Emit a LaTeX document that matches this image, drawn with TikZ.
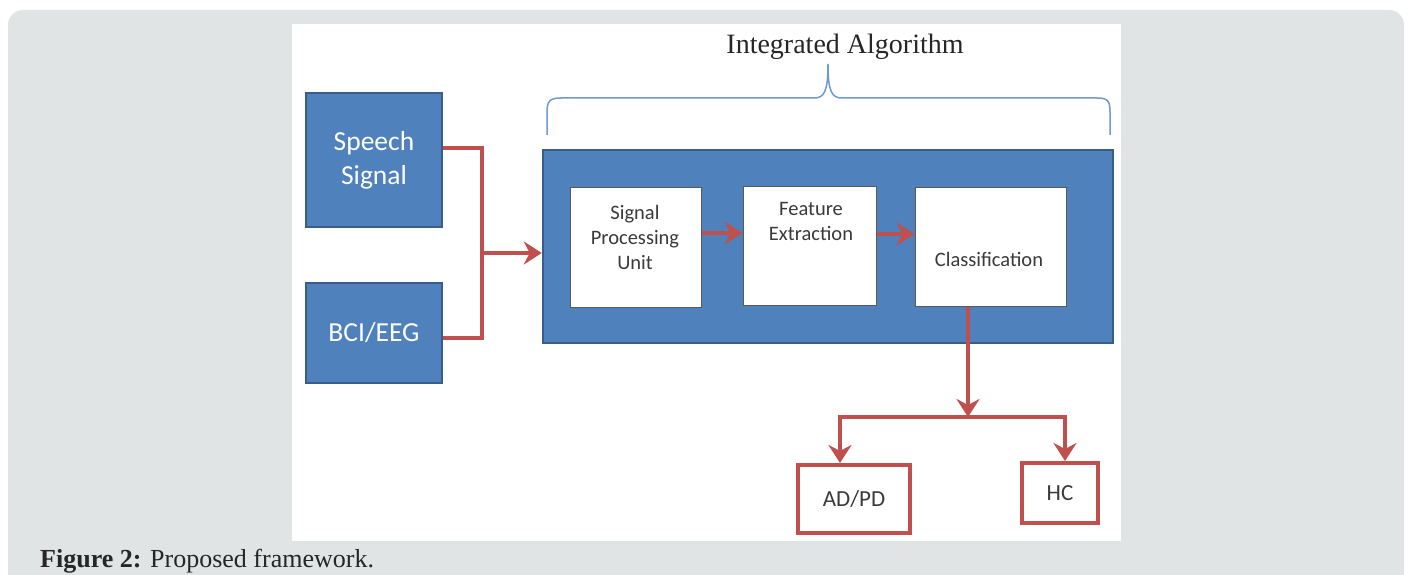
\documentclass[tikz,border=0pt]{standalone}
\usepackage{fontspec}
\setmainfont{Liberation Serif}
\newfontfamily\boxfont{Carlito}
\usetikzlibrary{arrows.meta}
\definecolor{panelgray}{HTML}{E1E4E5}
\definecolor{accblue}{HTML}{4F81BD}
\definecolor{accblueedge}{HTML}{385D8A}
\definecolor{bracecol}{HTML}{6E9AD0}
\definecolor{accred}{HTML}{C0504D}
\definecolor{labelgray}{HTML}{3A3A3A}
\definecolor{captext}{HTML}{262626}
\begin{document}
\begin{tikzpicture}[x=1pt,y=-1pt,
  bluebox/.style={draw=accblueedge,line width=2.5pt,fill=accblue,inner sep=0pt},
  inbox/.style={draw=gray!70!black,line width=1pt,fill=white,inner sep=0pt},
  outbox/.style={draw=accred,line width=4pt,fill=white,inner sep=0pt,
    font=\boxfont\fontsize{23}{26}\selectfont,text=labelgray},
  inlabel/.style={font=\boxfont\fontsize{20.5}{25}\selectfont,text=labelgray,align=center,inner sep=0pt},
  redline/.style={draw=accred,line width=4pt},
  redarrow/.style={redline,-{Stealth[length=18pt,width=23pt,inset=6pt]}},
  brace/.style={draw=bracecol,line width=1.5pt}]
\useasboundingbox (0,0) rectangle (1408,575);
\fill[white] (0,0) rectangle (1408,575);
% grey panel with rounded top corners
\fill[panelgray] (8,575) [rounded corners=15pt] -- (8,10) -- (1404,10) [sharp corners] -- (1404,575) -- cycle;
% figure area
\fill[white] (292,24) rectangle (1121,541);

% inputs
\node[bluebox,minimum width=136pt,minimum height=134pt,text=white,align=center,
  font=\boxfont\fontsize{27.5}{34}\selectfont] (speech) at (374,160) {Speech\\Signal};
\node[bluebox,minimum width=136pt,minimum height=100pt,text=white,
  font=\boxfont\fontsize{27.5}{34}\selectfont] (bci) at (374,333) {BCI/EEG};

% integrated algorithm block
\node[bluebox,minimum width=570pt,minimum height=193pt] (algo) at (828,246.5) {};
\node[inbox,minimum width=131pt,minimum height=120pt] (sp) at (635.5,247) {};
\node[inbox,minimum width=133pt,minimum height=119pt] (fe) at (809.5,245.5) {};
\node[inbox,minimum width=151pt,minimum height=119pt] (cl) at (990.5,246.5) {};
\node[inlabel] (sptext) at (635,237) {Signal\\Processing\\Unit};
\node[inlabel] (fetext) at (811,221) {Feature\\Extraction};
\node[inlabel] (cltext) at (989,259) {Classification};

% outputs
\node[outbox,minimum width=112pt,minimum height=68pt] (adpd) at (854,499) {AD/PD};
\node[outbox,minimum width=76pt,minimum height=60pt] (hc) at (1060,493) {HC};

% brace and title
\node[font=\fontsize{28}{32}\selectfont,text=captext] (title) at (845,47) {Integrated Algorithm};
\draw[brace] (547,135) -- (547,112) .. controls (547,101) and (550,98) .. (561,98)
  -- (814,98) .. controls (824,98) and (828,92) .. (828,64)
  .. controls (828,92) and (832,98) .. (842,98)
  -- (1097,98) .. controls (1108,98) and (1110,101) .. (1110,112) -- (1110,135);

% connectors
\coordinate (join) at (482,253);
\draw[redline] ([yshift=12pt]speech.east) -| (join) |- ([yshift=-5pt]bci.east);
\draw[redarrow] (join) -- (join -| algo.west);
\draw[redarrow] ([yshift=14pt]sp.east) -- ([yshift=14pt]sp.east -| fe.west);
\draw[redarrow] ([yshift=11.5pt]fe.east) -- ([yshift=11.5pt]fe.east -| cl.west);
\coordinate (split) at (968,417);
\draw[redarrow] (split |- cl.south) -- (split);
\draw[redline] ([xshift=-14pt]adpd.north |- split) -- ([xshift=5pt]hc.north |- split);
\draw[redarrow] (split) -| ([xshift=-14pt]adpd.north);
\draw[redarrow] (split) -| ([xshift=5pt]hc.north);

% caption
\node[anchor=base west,inner sep=0pt,text=captext,font=\fontsize{26}{30}\selectfont] (caption) at (40,567)
  {\textbf{Figure 2:} Proposed framework.};
\end{tikzpicture}
\end{document}
